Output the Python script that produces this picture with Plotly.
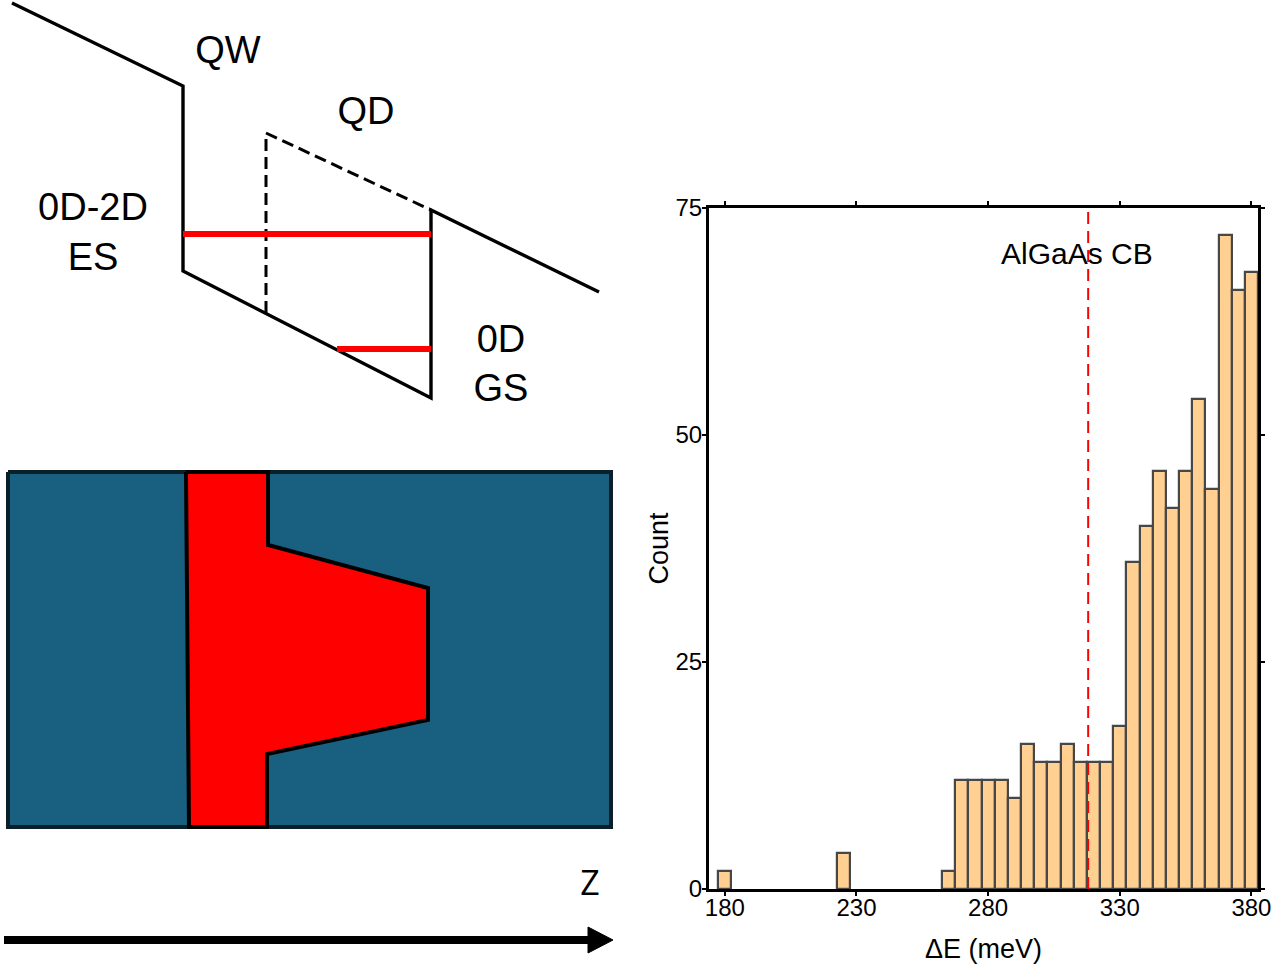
import plotly.graph_objects as go

# ---------------- histogram data ----------------
bin_centers = [180, 225, 265, 270, 275, 280, 285, 290, 295, 300, 305, 310, 315,
               320, 325, 330, 335, 340, 345, 350, 355, 360, 365, 370, 375, 380]
counts = [2, 4, 2, 12, 12, 12, 12, 10, 16, 14, 14, 16, 14,
          14, 14, 18, 36, 40, 46, 42, 46, 54, 44, 72, 66, 68]
bin_width = 5
cb_energy = 318
x_ticks = [180, 230, 280, 330, 380]
y_ticks = [0, 25, 50, 75]

# ---------------- schematic data (pixel units of the drawing) ----------------
band_x = [12, 183, 183, 431, 431, 599]
band_y = [3, 86, 271, 398, 210, 292]
qd_dash_x = [266, 266, None, 266, 431]
qd_dash_y = [313, 133, None, 133, 210]
es_level_x = [183, 431]
es_level_y = [234, 234]
gs_level_x = [337, 431]
gs_level_y = [349, 349]
box_x = [8, 611, 611, 8, 8]
box_y = [472, 472, 827, 827, 472]
dot_x = [186, 268, 268, 428, 428, 267, 267, 189, 186]
dot_y = [472, 472, 545, 588, 720, 754, 827, 827, 472]
arrow_x = [4, 592]
arrow_y = [940, 940]
head_x = [588, 613, 588, 588]
head_y = [927, 940, 953, 927]
label_text = ["QW", "QD", "0D-2D", "ES", "0D", "GS"]
label_x = [228, 366, 93, 93, 501, 501]
label_y = [53, 114, 210, 260, 342, 391]

W, H = 1285, 971
FONT = "Liberation Sans, Arial, sans-serif"

fig = go.Figure()

# ---- schematic (xaxis2/yaxis2 in pixel units) ----
fig.add_trace(go.Scatter(x=box_x, y=box_y, fill="toself", fillcolor="#185F80",
                         mode="lines", line=dict(color="#0b1f29", width=4),
                         xaxis="x2", yaxis="y2", hoverinfo="skip", showlegend=False))
fig.add_trace(go.Scatter(x=dot_x, y=dot_y, fill="toself", fillcolor="#FF0000",
                         mode="lines", line=dict(color="black", width=4),
                         xaxis="x2", yaxis="y2", hoverinfo="skip", showlegend=False))
fig.add_trace(go.Scatter(x=band_x, y=band_y, mode="lines",
                         line=dict(color="black", width=3.4),
                         xaxis="x2", yaxis="y2", hoverinfo="skip", showlegend=False))
fig.add_trace(go.Scatter(x=qd_dash_x, y=qd_dash_y, mode="lines",
                         line=dict(color="black", width=3, dash="12px,6px"),
                         xaxis="x2", yaxis="y2", hoverinfo="skip", showlegend=False))
fig.add_trace(go.Scatter(x=es_level_x, y=es_level_y, mode="lines",
                         line=dict(color="#FF0000", width=6),
                         xaxis="x2", yaxis="y2", hoverinfo="skip", showlegend=False))
fig.add_trace(go.Scatter(x=gs_level_x, y=gs_level_y, mode="lines",
                         line=dict(color="#FF0000", width=6),
                         xaxis="x2", yaxis="y2", hoverinfo="skip", showlegend=False))
fig.add_trace(go.Scatter(x=arrow_x, y=arrow_y, mode="lines",
                         line=dict(color="black", width=8),
                         xaxis="x2", yaxis="y2", hoverinfo="skip", showlegend=False))
fig.add_trace(go.Scatter(x=head_x, y=head_y, fill="toself", fillcolor="black",
                         mode="lines", line=dict(color="black", width=1),
                         xaxis="x2", yaxis="y2", hoverinfo="skip", showlegend=False))
fig.add_trace(go.Scatter(x=label_x, y=label_y, mode="text", text=label_text,
                         textfont=dict(family=FONT, size=38, color="black"),
                         xaxis="x2", yaxis="y2", hoverinfo="skip", showlegend=False))
fig.add_trace(go.Scatter(x=[590], y=[886], mode="text", text=["Z"],
                         textfont=dict(family="Open Sans, sans-serif", size=34, color="black"),
                         xaxis="x2", yaxis="y2", hoverinfo="skip", showlegend=False))

# ---- histogram ----
fig.add_trace(go.Bar(x=bin_centers, y=counts, width=bin_width,
                     marker=dict(color="#FFD092", line=dict(color="#474747", width=2.2)),
                     showlegend=False))
fig.add_trace(go.Scatter(x=[cb_energy, cb_energy], y=[y_ticks[0], y_ticks[-1]], mode="lines",
                         line=dict(color="#FF0000", width=2, dash="12px,7px"),
                         showlegend=False, hoverinfo="skip"))

fig.add_annotation(x=313.8, y=70, xref="x", yref="y", text="AlGaAs CB", showarrow=False,
                   font=dict(family=FONT, size=30, color="black"))

axis_common = dict(showline=True, linecolor="black", linewidth=3, mirror="ticks",
                   ticks="outside", ticklen=4, tickwidth=2, tickcolor="black",
                   showgrid=False, zeroline=False, automargin=False,
                   tickfont=dict(family=FONT, size=24, color="black"))

fig.update_layout(
    width=W, height=H,
    margin=dict(l=0, r=0, t=0, b=0, pad=0, autoexpand=False),
    paper_bgcolor="white", plot_bgcolor="white",
    bargap=0, showlegend=False,
    xaxis=dict(domain=[709 / W, 1258 / W], range=[174, 382.5], tickvals=x_ticks,
               ticklabelstandoff=-9,
               title=dict(text="ΔE (meV)", font=dict(family=FONT, size=27, color="black"),
                          standoff=20),
               **axis_common),
    yaxis=dict(domain=[(H - 889) / H, (H - 208) / H], range=[0, 75], tickvals=y_ticks,
               ticklabelstandoff=-5,
               title=dict(text="Count", font=dict(family=FONT, size=27, color="black"),
                          standoff=0),
               **axis_common),
    xaxis2=dict(domain=[0, 642.5 / W], range=[0, 642.5], visible=False,
                fixedrange=True, automargin=False),
    yaxis2=dict(domain=[0, 1], range=[H, 0], visible=False,
                fixedrange=True, automargin=False),
)

fig.write_html("out.html")
